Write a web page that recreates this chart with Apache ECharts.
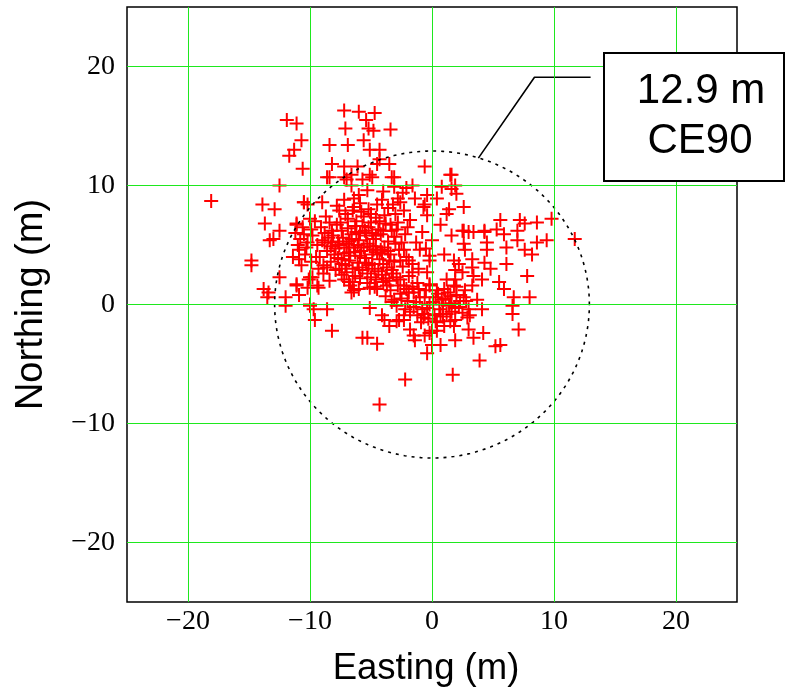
<!DOCTYPE html>
<html>
<head>
<meta charset="utf-8">
<script src="https://cdn.jsdelivr.net/npm/echarts@6/dist/echarts.min.js"></script>
<style>html,body{margin:0;padding:0;background:#fff}#c{width:787px;height:689px}</style>
</head>
<body>
<div id="c"></div>
<script>
// ---- data (metres) ----
const xTicks = [-20, -10, 0, 10, 20];
const yTicks = [-20, -10, 0, 10, 20];
const ce90Radius = 12.9;
const labelLines = ['12.9 m', 'CE90'];
const leader = [[3.8, 12.3], [8.4, 19.1], [13.0, 19.1]];

const outerPoints = [
  [-11.9,15.5],[-11.1,15.2],[-10.7,13.8],[-11.3,13.0],[-11.7,12.5],[-10.6,11.4],[-12.5,10.0],[-18.1,8.7],
  [-13.9,8.4],[-10.5,8.6],[-13.7,6.8],[-12.5,6.2],[-13.0,5.5],[-13.3,5.4],[-14.8,3.7],[-14.8,3.3],
  [-12.5,2.3],[-13.8,1.3],[-13.4,1.0],[-13.5,0.6],[-12.0,0.6],[-12.0,-0.1],[-11.1,6.7],[-11.1,1.7],
  [-10.0,2.3],[-9.4,1.6],[-10.2,1.4],[-10.0,-0.1],[-12.9,8.0],[-11.2,6.0],[-10.6,6.5],[-11.0,5.0],
  [-10.4,4.2],[-11.4,4.0],[-10.7,3.3],
  [2.6,6.2],[3.4,6.1],[4.3,6.2],[5.6,7.1],[5.3,6.3],[5.9,5.9],[7.2,7.1],[7.6,6.8],[7.0,6.2],[7.0,5.4],
  [8.6,6.9],[9.8,7.2],[9.4,5.4],[8.6,5.2],[11.7,5.5],[4.5,5.2],[4.5,4.6],[6.1,4.8],[7.6,4.6],[8.2,4.2],
  [4.8,3.0],[6.1,3.4],[7.8,2.4],[5.5,1.9],[5.9,1.3],[6.7,0.6],[8.0,0.6],[6.6,-0.1],
  [-9.6,-1.3],[-8.2,-2.2],[-5.7,-2.8],[-5.3,-2.8],[-4.5,-3.3],[-2.2,-6.3],[-4.3,-8.4],[-0.4,-4.1],
  [0.0,-3.4],[0.7,-3.4],[1.9,-3.0],[1.7,-5.9],[3.9,-4.7],[3.4,-2.8],[4.2,-2.4],[3.0,-2.1],[5.2,-3.5],
  [5.6,-3.4],[7.1,-2.1],[6.6,-0.8],[-1.5,-2.6],[-1.4,-3.0],[-3.9,-1.3],[-3.5,-1.8],[-2.9,-1.4],
  [-2.3,-1.3],[-1.8,-2.1],[-0.7,-1.1],[0.4,-1.5],[1.0,-1.8],[1.5,-1.4],[2.9,-1.1],[-0.2,-2.4],
  [0.4,-2.2],[1.8,-1.8]
];

const upperPoints = [
  [-7.2,16.3],[-6.0,16.2],[-4.7,16.1],[-5.4,15.5],[-7.1,14.8],[-5.2,14.8],[-4.8,14.6],[-3.4,14.7],
  [-8.4,13.4],[-6.9,13.4],[-5.6,13.8],[-5.1,13.0],[-4.3,13.0],[-4.3,12.2],[-4.5,11.8],[-3.5,11.8],
  [-8.2,11.8],[-7.2,11.6],[-6.1,11.6],[-0.6,11.6],[1.6,10.9],[-3.1,10.7],[-8.4,10.7],[-7.2,10.7],
  [-4.9,10.7],[-8.6,10.7],[-7.0,10.5],[-6.6,10.9],[-6.6,10.0],[-3.3,10.7],[-5.1,10.9],[-5.7,10.5],
  [-1.6,10.0],[1.5,10.9],[1.6,9.7],[0.8,9.9],[-0.4,9.2],[0.4,8.9],[-0.6,8.4],[1.4,8.0],[1.2,7.6],
  [2.6,8.2],[-0.4,7.5],[0.7,6.7],[-3.1,9.9],[-4.0,9.5],[-5.3,9.6],[-6.0,9.2],[-2.4,9.4],[1.9,10.0],
  [2.0,9.3],[-1.4,8.9],[-2.3,7.9],[-1.8,7.1],[-2.8,8.9],[-2.1,9.8]
];

const corePoints = [
  [-10.5,8.6],[-10.2,8.4],[-9.0,8.6],[-7.2,8.8],[-6.4,8.9],[-7.6,7.9],[-6.4,8.2],[-10.0,7.2],[-11.1,6.8],
  [-8.4,6.9],[-8.2,6.2],[-7.8,6.7],[-10.5,5.9],[-10.8,5.5],[-10.2,5.2],[-8.8,5.2],[-8.2,5.2],[-7.6,5.0],
  [-7.0,5.1],[-6.8,4.4],[-10.9,4.6],[-10.9,3.8],[-7.4,3.8],[-6.7,4.1],[-7.1,3.3],[-7.6,3.0],[-7.4,2.5],
  [-11.1,1.6],[-10.1,2.1],[-9.8,2.3],[-8.4,2.0],[-9.3,1.4],[-6.8,1.9],[-10.9,0.8],[-6.6,1.0],[-10.0,0.0],
  [-9.7,-0.4],[-8.6,-0.4],
  [-7.8,8.3],[-7.1,7.6],[-6.5,7.9],[-5.9,8.5],[-5.2,8.0],[-4.6,7.3],[-4.1,8.8],[-3.6,8.1],[-3.0,7.6],[-2.6,8.6],
  [-7.5,6.9],[-6.9,6.4],[-6.2,7.0],[-5.7,6.6],[-5.0,6.9],[-4.4,6.3],[-3.8,6.8],[-3.3,6.2],[-2.8,6.9],[-2.0,6.5],
  [-8.1,5.8],[-7.3,5.6],[-6.6,5.9],[-6.0,5.4],[-5.4,5.8],[-4.8,5.5],[-4.2,5.9],[-3.6,5.3],[-3.1,5.7],[-2.5,5.2],
  [-7.9,4.7],[-7.2,4.3],[-6.4,4.8],[-5.8,4.5],[-5.1,4.9],[-4.5,4.4],[-3.9,4.8],[-3.4,4.2],[-2.7,4.6],[-2.1,4.0],
  [-8.3,3.6],[-7.7,3.9],[-6.1,3.5],[-5.5,3.9],[-4.9,3.4],[-4.3,3.8],[-3.7,3.1],[-3.1,3.6],[-2.4,3.2],[-1.6,3.4],
  [-7.0,2.7],[-6.3,2.4],[-5.7,2.9],[-5.0,2.3],[-4.4,2.8],[-3.8,2.2],[-3.2,2.6],[-2.6,2.1],[-1.9,2.4],
  [-6.7,1.6],[-6.0,1.3],[-5.3,1.8],[-4.7,1.5],[-4.0,1.9],[-3.4,1.2],[-2.8,1.6],[-2.1,1.3],[-1.2,1.8],
  [-6.2,6.1],[-5.6,7.4],[-4.9,6.0],[-4.3,7.0],[-5.3,5.1],[-6.8,5.3],[-5.9,4.1],[-4.6,4.9],[-5.2,3.3],
  [-6.5,3.0],[-4.1,4.3],[-3.5,3.7],[-5.5,6.2],[-4.8,4.6],[-6.1,5.0],
  [-9.5,4.0],[-9.1,6.5],[-8.7,7.4],[-9.3,3.0],[-8.9,2.6],[-9.8,5.8],[-8.6,4.5],[-9.6,7.0],
  [-9.0,5.4],[-9.2,4.0],[-8.9,3.3],
  [-0.8,6.1],[-1.3,5.2],[-0.5,4.7],[-1.1,3.0],[-0.7,8.2],[-2.2,5.9],[-1.0,4.6],[-1.9,3.7],[-1.6,2.7],
  [-2.3,1.6],[-1.5,1.0],[-4.5,1.3],
  [0.0,5.4],[1.6,5.8],[2.5,6.2],[3.0,6.1],[4.3,6.1],[2.6,5.1],[2.7,4.6],[1.0,4.2],[-0.2,4.1],[-0.2,3.7],
  [1.8,3.7],[2.2,3.4],[3.3,3.8],[4.3,3.5],[1.9,2.9],[2.5,2.7],[3.3,3.1],[1.2,2.1],[1.9,2.1],[3.4,2.4],
  [4.1,2.1],[-0.4,2.7],
  [-6.9,7.2],[-6.3,6.6],[-5.8,7.8],[-5.0,7.6],[-4.5,8.4],[-3.9,7.5],[-3.2,8.4],[-7.4,6.2],[-6.6,5.5],
  [-5.9,6.0],[-5.2,6.5],[-4.6,5.8],[-4.0,6.2],[-3.4,6.7],[-2.9,6.3],[-7.7,5.3],[-7.0,4.8],[-6.3,4.4],
  [-5.6,4.8],[-4.9,4.2],[-4.2,4.6],[-3.6,4.5],[-3.0,5.1],[-2.3,4.6],[-8.0,4.2],[-7.4,3.4],[-6.8,3.7],
  [-6.0,3.1],[-5.4,3.5],[-4.7,3.0],[-4.0,3.4],[-3.3,2.9],[-2.6,3.7],[-7.2,2.1],[-6.5,1.9],[-5.9,2.2],
  [-5.3,2.6],[-4.6,2.1],[-4.1,2.5],[-3.5,2.0],[-2.9,2.3],[-8.8,6.0],[-8.5,5.6],[-9.4,5.0],[-8.3,4.9],
  [-5.1,1.4],[-3.7,1.6],[-6.4,1.2],[-7.9,2.9],[-8.6,3.1],[-9.9,3.6],[-10.3,4.8],[-9.9,6.3]
];

const lowerPoints = [
  [-0.2,1.6],[0.4,1.2],[1.0,1.3],[1.8,1.6],[2.0,0.8],[2.7,1.2],[3.3,1.6],[3.7,0.4],[-0.6,0.6],[0.8,0.4],
  [-0.2,0.0],[1.4,-0.1],[1.9,-0.3],[3.0,-0.4],[2.5,-0.7],[-0.6,-0.8],[0.2,-0.9],[1.2,-0.8],[1.9,-1.3],
  [3.1,-0.9],[4.1,-0.4],
  [-5.1,-0.3],[-4.1,-0.9],[-2.9,-0.1],[-2.2,-0.4],[-2.7,-1.3],[-3.1,0.4],
  [-3.8,0.7],[-3.3,0.2],[-2.6,0.9],[-2.0,0.3],[-1.5,-0.2],[-1.0,0.6],[-0.5,1.2],[0.1,0.2],[0.6,-0.4],
  [1.1,0.5],[1.6,0.1],[2.2,-0.2],[2.8,0.3],[-1.8,-0.6],[-1.2,-0.9],[-0.4,-0.3],[0.3,-1.4],[0.9,-1.0],
  [-0.9,-1.5],[-0.2,1.7],[0.5,0.9],[1.3,1.0],[2.0,1.5],[2.6,0.6],[-2.3,-0.9],[-1.6,1.5],[0.0,-2.2],
  [-0.6,-2.6],
  [-1.3,0.2],[-0.8,-0.4],[0.3,0.6],[0.9,0.0],[1.5,0.7],[2.3,0.3],[-1.9,1.0],[-0.3,-1.2],[0.7,-0.8],
  [1.6,-0.6],[-2.5,0.5],[-1.1,1.3]
];

const allPoints = outerPoints.concat(upperPoints, corePoints, lowerPoints);

// circle outline from the CE90 radius (geometry, not data)
const circle = [];
for (let a = 0; a <= 360; a += 2) {
  const r = a * Math.PI / 180;
  circle.push([ce90Radius * Math.cos(r), ce90Radius * Math.sin(r)]);
}

const chart = echarts.init(document.getElementById('c'), null, {renderer: 'canvas'});
const fmt = v => (v % 10 === 0 && Math.abs(v) <= 20) ? (v < 0 ? '\u2212' + Math.abs(v) : String(v)) : '';
const gridMarks = xTicks.map(v => ({xAxis: v})).concat(yTicks.map(v => ({yAxis: v})));

chart.setOption({
  animation: false,
  backgroundColor: '#fff',
  grid: {left: 127, right: 50, top: 7, bottom: 87, containLabel: false, outerBoundsMode: 'none',
         show: true, borderColor: '#000', borderWidth: 1.5, backgroundColor: 'transparent'},
  xAxis: {
    type: 'value', min: -25, max: 25, interval: 5,
    axisLine: {show: false}, axisTick: {show: false}, splitLine: {show: false},
    axisLabel: {formatter: fmt, fontFamily: 'Liberation Serif', fontSize: 28, color: '#000', margin: 6},
    name: 'Easting (m)', nameLocation: 'middle', nameGap: 48,
    nameTextStyle: {fontFamily: 'Liberation Sans', fontSize: 36.5, color: '#000', padding: [0, 12, 0, 0]}
  },
  yAxis: {
    type: 'value', min: -25, max: 25, interval: 5,
    axisLine: {show: false}, axisTick: {show: false}, splitLine: {show: false},
    axisLabel: {formatter: fmt, fontFamily: 'Liberation Serif', fontSize: 28, color: '#000', margin: 12},
    name: 'Northing (m)', nameLocation: 'middle', nameGap: 76, nameRotate: 90,
    nameTextStyle: {fontFamily: 'Liberation Sans', fontSize: 38, color: '#000'}
  },
  series: [
    {
      type: 'scatter', data: [], z: 1, silent: true,
      markLine: {silent: true, symbol: 'none', label: {show: false}, animation: false,
        lineStyle: {color: '#1ee81e', width: 1, type: 'solid'}, data: gridMarks}
    },
    {
      type: 'scatter', data: allPoints, z: 3, silent: true,
      symbol: 'path://M-1,-7H1V-1H7V1H1V7H-1V1H-7V-1H-1Z',
      symbolSize: 14, itemStyle: {color: '#ff0000', opacity: 1}
    },
    {
      type: 'line', data: circle, z: 4, silent: true, showSymbol: false, symbol: 'none',
      lineStyle: {color: '#000', width: 1.6, type: [3, 5]}
    },
    {
      type: 'line', data: leader, z: 4, silent: true, showSymbol: false, symbol: 'none',
      lineStyle: {color: '#000', width: 1.6}
    }
  ],
  graphic: [
    {type: 'rect', left: 603, top: 52, shape: {width: 180, height: 128}, z: 10,
     style: {fill: '#fff', stroke: '#000', lineWidth: 2}},
    {type: 'text', x: 701, y: 91, z: 11,
     style: {text: labelLines[0], fontFamily: 'Liberation Sans', fontSize: 42, fill: '#000', textAlign: 'center', textVerticalAlign: 'middle'}},
    {type: 'text', x: 700, y: 141, z: 11,
     style: {text: labelLines[1], fontFamily: 'Liberation Sans', fontSize: 42, fill: '#000', textAlign: 'center', textVerticalAlign: 'middle'}}
  ]
});
</script>
</body>
</html>
